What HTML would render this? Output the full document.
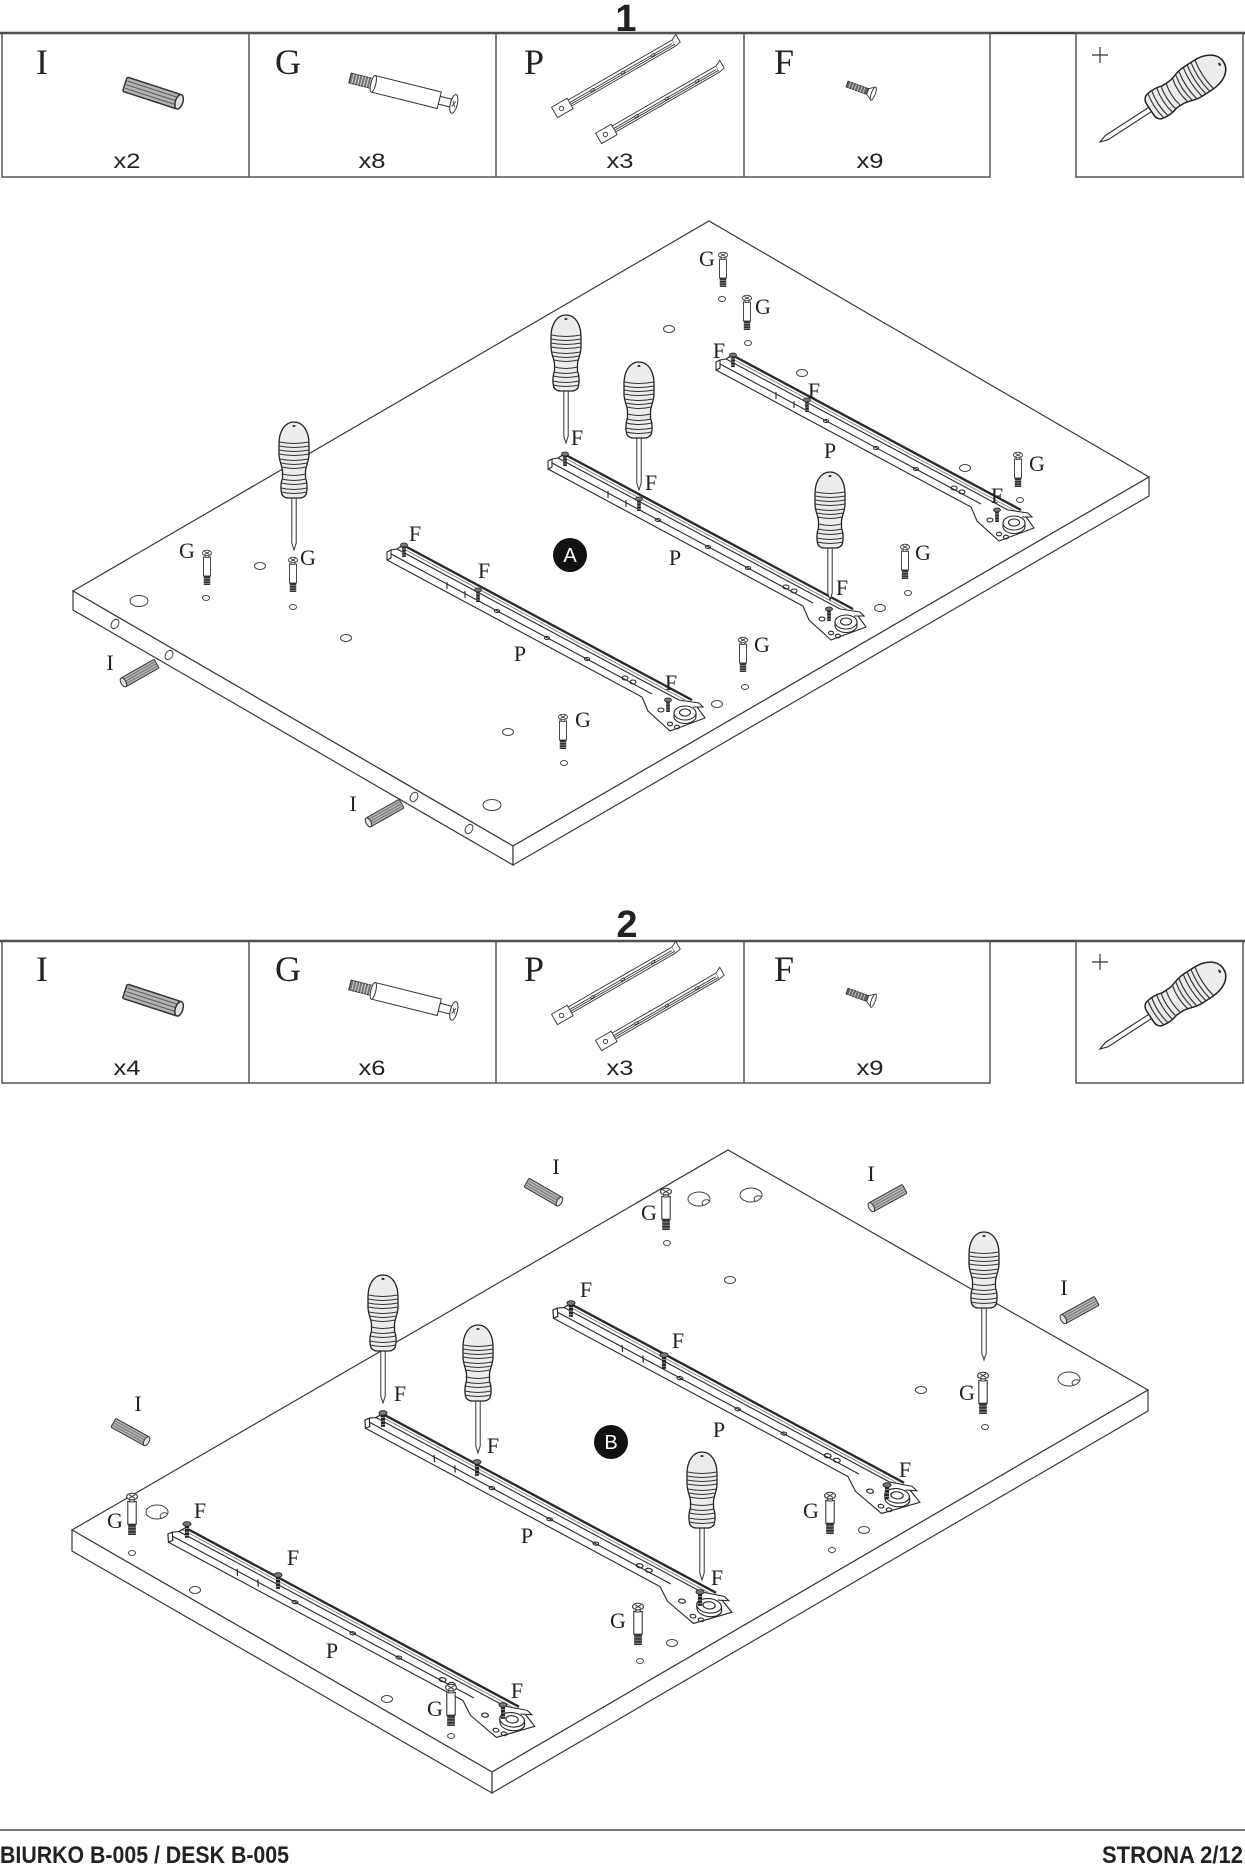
<!DOCTYPE html>
<html>
<head>
<meta charset="utf-8">
<style>
html,body{margin:0;padding:0;background:#fff;}
svg{display:block;}
.lb{font-family:"Liberation Serif",serif;font-size:22px;fill:#222;text-anchor:middle;}
.hl{font-family:"Liberation Serif",serif;font-size:36px;fill:#222;text-anchor:middle;}
.cnt{font-family:"Liberation Sans",sans-serif;font-size:21px;fill:#222;text-anchor:middle;}
.num{font-family:"Liberation Sans",sans-serif;font-size:38px;font-weight:bold;fill:#222;text-anchor:middle;}
.ft{font-family:"Liberation Sans",sans-serif;font-size:24px;font-weight:bold;fill:#222;}
</style>
</head>
<body>
<svg width="1245" height="1865" viewBox="0 0 1245 1865" xmlns="http://www.w3.org/2000/svg">
<defs>
  <g id="dwl">
    <rect x="-19" y="-5" width="38" height="10" rx="1" fill="#b5b5b5" stroke="#333" stroke-width="1"/>
    <path d="M-18,-2.5H17 M-18,0H17 M-18,2.5H17" stroke="#666" stroke-width="0.8" fill="none"/>
    <ellipse cx="19" cy="0" rx="2.5" ry="5" fill="#e2e2e2" stroke="#333" stroke-width="1"/>
  </g>
  <g id="gb">
    <rect x="-3.5" y="7" width="7" height="19" fill="#fff" stroke="#333" stroke-width="0.9"/>
    <rect x="-3.2" y="26" width="6.4" height="9" fill="#333"/>
    <path d="M-3.2,28.5H3.2 M-3.2,31H3.2 M-3.2,33.5H3.2" stroke="#999" stroke-width="0.7"/>
    <rect x="-1.8" y="3" width="3.6" height="4.5" fill="#fff" stroke="#333" stroke-width="0.8"/>
    <ellipse cx="0" cy="3" rx="4.5" ry="2.8" fill="#fff" stroke="#333" stroke-width="0.9"/>
    <path d="M-2.5,1.5L2.5,4.5M2.5,1.5L-2.5,4.5" stroke="#333" stroke-width="0.8"/>
  </g>
  <g id="fs">
    <rect x="-1.8" y="0" width="3.6" height="12" fill="#222"/>
    <path d="M-1.8,4H1.8M-1.8,7H1.8M-1.8,10H1.8" stroke="#aaa" stroke-width="0.7"/>
    <ellipse cx="0" cy="0" rx="3.5" ry="2" fill="#777" stroke="#222" stroke-width="0.8"/>
  </g>
  <g id="sd">
    <path d="M-2.2,-53 L-2.2,-7 L0,0 L2.2,-7 L2.2,-53 Z" fill="#fff" stroke="#333" stroke-width="1"/>
    <path d="M0,-128 C9,-128 15,-119 15,-106 L15,-96 C15,-89 12,-85 11.5,-79 L11.5,-72 C13,-68 13.5,-62 12.5,-57 C12,-54 9,-52 6,-52 L-6,-52 C-9,-52 -12,-54 -12.5,-57 C-13.5,-62 -13,-68 -11.5,-72 L-11.5,-79 C-12,-85 -15,-89 -15,-96 L-15,-106 C-15,-119 -9,-128 0,-128 Z" fill="#ececec" stroke="#222" stroke-width="1.3"/>
    <path d="M-14.5,-108Q0,-105 14.5,-108 M-15,-104Q0,-101 15,-104 M-15,-100Q0,-97 15,-100 M-15,-96Q0,-93 15,-96 M-14,-91Q0,-88 14,-91 M-12.8,-87Q0,-84 12.8,-87 M-11.8,-83Q0,-80 11.8,-83 M-11.5,-76Q0,-73 11.5,-76 M-12,-71Q0,-68 12,-71 M-12.8,-67Q0,-64 12.8,-67 M-13,-62Q0,-59 13,-62 M-12.8,-58Q0,-55 12.8,-58" fill="none" stroke="#333" stroke-width="1"/>
    <ellipse cx="0" cy="-124" rx="1.6" ry="1" fill="#333"/>
  </g>
  <g id="rail" fill="none" stroke="#2a2a2a" stroke-width="1.1">
    <path d="M0,7 L0,-1 L4,-3 L4,5 Z" fill="#fff"/>
    <line x1="0" y1="7" x2="255" y2="144"/>
    <line x1="4" y1="1" x2="265" y2="141"/>
    <line x1="4" y1="-3" x2="10" y2="-4"/>
    <line x1="10" y1="-4" x2="292" y2="147"/>
    <line x1="13" y1="-6" x2="298" y2="147" stroke="#777" stroke-width="0.8"/>
    <line x1="10" y1="-4" x2="16" y2="-8"/>
    <line x1="16" y1="-8" x2="305" y2="147" stroke-width="2.4"/>
    <path d="M60,36 V29 M78,45 V38"/>
    <ellipse cx="110" cy="58" rx="2.5" ry="1.5"/>
    <ellipse cx="160" cy="85" rx="2.5" ry="1.5"/>
    <ellipse cx="200" cy="106" rx="2.5" ry="1.5"/>
    <ellipse cx="238" cy="125" rx="3" ry="2"/>
    <ellipse cx="246" cy="129" rx="3" ry="2"/>
    <path d="M255,144 L261,158 L283,178 L318,165 L308,151 L298,148" fill="#fff"/>
    <path d="M292,147 L312,150 L316,154 L306,154" fill="#fff"/>
    <path d="M287,160 v3.5 a11,7 0 0 0 22,0 v-3.5" fill="#fff"/>
    <ellipse cx="298" cy="160" rx="11" ry="7" fill="#fff"/>
    <ellipse cx="298" cy="159.5" rx="5.5" ry="3.5"/>
    <ellipse cx="274" cy="157" rx="3" ry="2"/>
    <ellipse cx="283" cy="171" rx="2.5" ry="1.8"/>
    <ellipse cx="290" cy="174" rx="2.5" ry="1.8"/>
  </g>
  <g id="icons">
    <g transform="translate(152,93) rotate(18) scale(1.5)"><use href="#dwl"/></g>
    <g transform="translate(350,78) rotate(14)" stroke="#333" stroke-width="1">
      <rect x="0" y="-5" width="24" height="10" fill="#777"/>
      <path d="M3,-5V5M6,-5V5M9,-5V5M12,-5V5M15,-5V5M18,-5V5M21,-5V5" stroke="#ddd" stroke-width="0.9"/>
      <rect x="24" y="-8.5" width="68" height="17" fill="#fff"/>
      <ellipse cx="24" cy="0" rx="2.5" ry="8.5" fill="#fff"/>
      <rect x="92" y="-4" width="12" height="8" fill="#fff"/>
      <ellipse cx="107" cy="0" rx="3.5" ry="9.5" fill="#fff"/>
      <path d="M105.5,-3L108.5,3M108.5,-3L105.5,3" stroke-width="0.8"/>
    </g>
    <g transform="translate(556,107) rotate(-30)" stroke="#333" stroke-width="0.9" fill="#fff">
      <path d="M0,0 L134,0 L134,7 L0,7 Z"/>
      <path d="M0,3 H132 M0,5 H134" fill="none"/>
      <ellipse cx="40" cy="3.5" rx="2" ry="1"/><ellipse cx="75" cy="3.5" rx="2" ry="1"/><ellipse cx="110" cy="3.5" rx="2" ry="1"/>
      <path d="M-4,-2 L14,-2 L14,10 L-4,10 Z"/>
      <circle cx="4" cy="4" r="2.2"/>
      <path d="M134,0 L140,-3 L140,6 L134,7"/>
    </g>
    <g transform="translate(600,133) rotate(-30)" stroke="#333" stroke-width="0.9" fill="#fff">
      <path d="M0,0 L134,0 L134,7 L0,7 Z"/>
      <path d="M0,3 H132 M0,5 H134" fill="none"/>
      <ellipse cx="40" cy="3.5" rx="2" ry="1"/><ellipse cx="75" cy="3.5" rx="2" ry="1"/><ellipse cx="110" cy="3.5" rx="2" ry="1"/>
      <path d="M-4,-2 L14,-2 L14,10 L-4,10 Z"/>
      <circle cx="4" cy="4" r="2.2"/>
      <path d="M134,0 L140,-3 L140,6 L134,7"/>
    </g>
    <g transform="translate(847,84) rotate(20)" stroke="#333" stroke-width="0.9">
      <rect x="0" y="-3" width="22" height="6" fill="#666"/>
      <path d="M3,-3V3M6,-3V3M9,-3V3M12,-3V3M15,-3V3M18,-3V3" stroke="#ddd" stroke-width="0.8"/>
      <path d="M22,-3 L28,-7 L28,7 L22,3 Z" fill="#fff"/>
      <ellipse cx="28" cy="0" rx="2" ry="7" fill="#fff"/>
    </g>
    <path d="M1092,55H1108M1100,47V63" stroke="#333" stroke-width="1.2"/>
    <g transform="translate(1100,142) rotate(57) scale(1.15)"><use href="#sd"/></g>
  </g>
</defs>

<!-- HEADER 1 -->
<text class="num" x="626" y="31">1</text>
<line x1="0" y1="33" x2="1245" y2="33" stroke="#444" stroke-width="2.5"/>
<g fill="none" stroke="#555" stroke-width="1.5">
  <rect x="2" y="33" width="988" height="144"/>
  <line x1="249" y1="33" x2="249" y2="177"/>
  <line x1="496" y1="33" x2="496" y2="177"/>
  <line x1="744" y1="33" x2="744" y2="177"/>
  <rect x="1076" y="33" width="167" height="144"/>
</g>
<text class="hl" x="42" y="74">I</text>
<text class="hl" x="288" y="74">G</text>
<text class="hl" x="534" y="74">P</text>
<text class="hl" x="784" y="74">F</text>
<text class="cnt" x="127" y="168" textLength="27" lengthAdjust="spacingAndGlyphs">x2</text>
<text class="cnt" x="372" y="168" textLength="27" lengthAdjust="spacingAndGlyphs">x8</text>
<text class="cnt" x="620" y="168" textLength="27" lengthAdjust="spacingAndGlyphs">x3</text>
<text class="cnt" x="870" y="168" textLength="27" lengthAdjust="spacingAndGlyphs">x9</text>
<use href="#icons"/>

<!-- STEP 1 BOARD -->
<g stroke="#3a3a3a" stroke-width="1.2" fill="#fff">
  <polygon points="73,591 709,221 1149,477 513,846"/>
  <polygon points="73,591 513,846 513,865 73,610"/>
  <polygon points="513,846 1149,477 1149,496 513,865"/>
</g>
<g fill="none" stroke="#444" stroke-width="1">
  <ellipse cx="139" cy="601" rx="9" ry="5.5"/>
  <ellipse cx="492" cy="805" rx="9" ry="5.5"/>
  <ellipse cx="669" cy="329" rx="5.5" ry="3.5"/>
  <ellipse cx="802" cy="373" rx="5.5" ry="3.5"/>
  <ellipse cx="965" cy="468" rx="5.5" ry="3.5"/>
  <ellipse cx="880" cy="608" rx="5.5" ry="3.5"/>
  <ellipse cx="717" cy="704" rx="5.5" ry="3.5"/>
  <ellipse cx="508" cy="732" rx="5.5" ry="3.5"/>
  <ellipse cx="346" cy="638" rx="5.5" ry="3.5"/>
  <ellipse cx="260" cy="566" rx="5.5" ry="3.5"/>
  <ellipse cx="722" cy="299" rx="3.5" ry="2.5"/>
  <ellipse cx="748" cy="343" rx="3.5" ry="2.5"/>
  <ellipse cx="1020" cy="500" rx="3.5" ry="2.5"/>
  <ellipse cx="908" cy="593" rx="3.5" ry="2.5"/>
  <ellipse cx="745" cy="687" rx="3.5" ry="2.5"/>
  <ellipse cx="564" cy="763" rx="3.5" ry="2.5"/>
  <ellipse cx="206" cy="598" rx="3.5" ry="2.5"/>
  <ellipse cx="293" cy="607" rx="3.5" ry="2.5"/>
  <ellipse cx="115" cy="624" rx="3.5" ry="5" transform="rotate(30 115 624)"/>
  <ellipse cx="169" cy="655" rx="3.5" ry="5" transform="rotate(30 169 655)"/>
  <ellipse cx="414" cy="797" rx="3.5" ry="5" transform="rotate(30 414 797)"/>
  <ellipse cx="469" cy="829" rx="3.5" ry="5" transform="rotate(30 469 829)"/>
</g>
<use href="#rail" transform="translate(387,553)"/>
<use href="#rail" transform="translate(548,462)"/>
<use href="#rail" transform="translate(716,363)"/>
<use href="#fs" transform="translate(404,545)"/>
<use href="#fs" transform="translate(478,590)"/>
<use href="#fs" transform="translate(668,700)"/>
<use href="#fs" transform="translate(565,454)"/>
<use href="#fs" transform="translate(639,499)"/>
<use href="#fs" transform="translate(829,609)"/>
<use href="#fs" transform="translate(733,355)"/>
<use href="#fs" transform="translate(807,400)"/>
<use href="#fs" transform="translate(997,510)"/>
<use href="#gb" transform="translate(723,252)"/>
<use href="#gb" transform="translate(747,295)"/>
<use href="#gb" transform="translate(1018,452)"/>
<use href="#gb" transform="translate(905,544)"/>
<use href="#gb" transform="translate(743,637)"/>
<use href="#gb" transform="translate(563,714)"/>
<use href="#gb" transform="translate(207,550)"/>
<use href="#gb" transform="translate(293,557)"/>
<use href="#dwl" transform="translate(140,673) rotate(150.5)"/>
<use href="#dwl" transform="translate(385,813) rotate(150.5)"/>
<use href="#sd" transform="translate(294,550)"/>
<use href="#sd" transform="translate(566,443)"/>
<use href="#sd" transform="translate(639,490)"/>
<use href="#sd" transform="translate(830,600)"/>
<text class="lb" x="415" y="541">F</text>
<text class="lb" x="484" y="578">F</text>
<text class="lb" x="671" y="690">F</text>
<text class="lb" x="577" y="445">F</text>
<text class="lb" x="651" y="490">F</text>
<text class="lb" x="842" y="595">F</text>
<text class="lb" x="719" y="358">F</text>
<text class="lb" x="814" y="398">F</text>
<text class="lb" x="997" y="503">F</text>
<text class="lb" x="520" y="661">P</text>
<text class="lb" x="675" y="565">P</text>
<text class="lb" x="830" y="458">P</text>
<text class="lb" x="707" y="266">G</text>
<text class="lb" x="763" y="314">G</text>
<text class="lb" x="1037" y="471">G</text>
<text class="lb" x="923" y="560">G</text>
<text class="lb" x="762" y="652">G</text>
<text class="lb" x="583" y="727">G</text>
<text class="lb" x="187" y="558">G</text>
<text class="lb" x="308" y="565">G</text>
<text class="lb" x="110" y="670">I</text>
<text class="lb" x="353" y="811">I</text>
<circle cx="570" cy="555" r="17" fill="#111"/>
<text x="570" y="562" fill="#fff" font-family="Liberation Sans, sans-serif" font-size="20" text-anchor="middle">A</text>

<!-- HEADER 2 -->
<text class="num" x="627" y="937">2</text>
<line x1="0" y1="941" x2="1245" y2="941" stroke="#444" stroke-width="2.5"/>
<g fill="none" stroke="#555" stroke-width="1.5">
  <rect x="2" y="941" width="988" height="142"/>
  <line x1="249" y1="941" x2="249" y2="1083"/>
  <line x1="496" y1="941" x2="496" y2="1083"/>
  <line x1="744" y1="941" x2="744" y2="1083"/>
  <rect x="1076" y="941" width="167" height="142"/>
</g>
<text class="hl" x="42" y="981">I</text>
<text class="hl" x="288" y="981">G</text>
<text class="hl" x="534" y="981">P</text>
<text class="hl" x="784" y="981">F</text>
<text class="cnt" x="127" y="1075" textLength="27" lengthAdjust="spacingAndGlyphs">x4</text>
<text class="cnt" x="372" y="1075" textLength="27" lengthAdjust="spacingAndGlyphs">x6</text>
<text class="cnt" x="620" y="1075" textLength="27" lengthAdjust="spacingAndGlyphs">x3</text>
<text class="cnt" x="870" y="1075" textLength="27" lengthAdjust="spacingAndGlyphs">x9</text>
<use href="#icons" transform="translate(0,907)"/>

<!-- STEP 2 BOARD -->
<g stroke="#3a3a3a" stroke-width="1.2" fill="#fff">
  <polygon points="72,1530 728,1150 1148,1390 492,1772"/>
  <polygon points="72,1530 492,1772 492,1793 72,1551"/>
  <polygon points="492,1772 1148,1390 1148,1411 492,1793"/>
</g>
<g fill="none" stroke="#444" stroke-width="1">
  <ellipse cx="699" cy="1199" rx="11" ry="7"/><path d="M703,1205 a4,3 0 0 1 7,-4"/>
  <ellipse cx="751" cy="1195" rx="11" ry="7"/><path d="M755,1201 a4,3 0 0 1 7,-4"/>
  <ellipse cx="1069" cy="1379" rx="11" ry="7"/><path d="M1073,1385 a4,3 0 0 1 7,-4"/>
  <ellipse cx="157" cy="1512" rx="11" ry="7"/><path d="M161,1518 a4,3 0 0 1 7,-4"/>
  <ellipse cx="730" cy="1280" rx="5.5" ry="3.5"/>
  <ellipse cx="921" cy="1390" rx="5.5" ry="3.5"/>
  <ellipse cx="864" cy="1530" rx="5.5" ry="3.5"/>
  <ellipse cx="672" cy="1643" rx="5.5" ry="3.5"/>
  <ellipse cx="387" cy="1699" rx="5.5" ry="3.5"/>
  <ellipse cx="195" cy="1590" rx="5.5" ry="3.5"/>
  <ellipse cx="667" cy="1243" rx="3.5" ry="2.5"/>
  <ellipse cx="985" cy="1427" rx="3.5" ry="2.5"/>
  <ellipse cx="832" cy="1550" rx="3.5" ry="2.5"/>
  <ellipse cx="640" cy="1661" rx="3.5" ry="2.5"/>
  <ellipse cx="451" cy="1736" rx="3.5" ry="2.5"/>
  <ellipse cx="132" cy="1553" rx="3.5" ry="2.5"/>
</g>
<use href="#rail" transform="matrix(1.12,0.0646,0.0646,1.0347,168,1535)"/>
<use href="#rail" transform="matrix(1.12,0.0646,0.0646,1.0347,365,1421)"/>
<use href="#rail" transform="matrix(1.12,0.0646,0.0646,1.0347,553,1311)"/>
<use href="#fs" transform="translate(187,1524) scale(1.15)"/>
<use href="#fs" transform="translate(278,1575) scale(1.15)"/>
<use href="#fs" transform="translate(503,1705) scale(1.15)"/>
<use href="#fs" transform="translate(383,1413) scale(1.15)"/>
<use href="#fs" transform="translate(477,1462) scale(1.15)"/>
<use href="#fs" transform="translate(700,1592) scale(1.15)"/>
<use href="#fs" transform="translate(571,1303) scale(1.15)"/>
<use href="#fs" transform="translate(664,1355) scale(1.15)"/>
<use href="#fs" transform="translate(887,1485) scale(1.15)"/>
<use href="#gb" transform="translate(666,1188) scale(1.2)"/>
<use href="#gb" transform="translate(983,1372) scale(1.2)"/>
<use href="#gb" transform="translate(830,1492) scale(1.2)"/>
<use href="#gb" transform="translate(638,1603) scale(1.2)"/>
<use href="#gb" transform="translate(451,1684) scale(1.2)"/>
<use href="#gb" transform="translate(132,1493) scale(1.2)"/>
<use href="#dwl" transform="translate(130,1432) rotate(29)"/>
<use href="#dwl" transform="translate(543,1192) rotate(30)"/>
<use href="#dwl" transform="translate(888,1198) rotate(151)"/>
<use href="#dwl" transform="translate(1080,1310) rotate(151)"/>
<use href="#sd" transform="translate(383,1403)"/>
<use href="#sd" transform="translate(478,1453)"/>
<use href="#sd" transform="translate(702,1580)"/>
<use href="#sd" transform="translate(984,1360)"/>
<text class="lb" x="200" y="1518">F</text>
<text class="lb" x="293" y="1565">F</text>
<text class="lb" x="517" y="1698">F</text>
<text class="lb" x="400" y="1401">F</text>
<text class="lb" x="493" y="1453">F</text>
<text class="lb" x="717" y="1585">F</text>
<text class="lb" x="586" y="1297">F</text>
<text class="lb" x="678" y="1348">F</text>
<text class="lb" x="905" y="1477">F</text>
<text class="lb" x="332" y="1658">P</text>
<text class="lb" x="527" y="1543">P</text>
<text class="lb" x="719" y="1437">P</text>
<text class="lb" x="649" y="1220">G</text>
<text class="lb" x="967" y="1400">G</text>
<text class="lb" x="811" y="1518">G</text>
<text class="lb" x="618" y="1628">G</text>
<text class="lb" x="435" y="1716">G</text>
<text class="lb" x="115" y="1528">G</text>
<text class="lb" x="556" y="1174">I</text>
<text class="lb" x="871" y="1181">I</text>
<text class="lb" x="138" y="1411">I</text>
<text class="lb" x="1064" y="1295">I</text>
<circle cx="611" cy="1442" r="17" fill="#111"/>
<text x="611" y="1449" fill="#fff" font-family="Liberation Sans, sans-serif" font-size="20" text-anchor="middle">B</text>

<!-- FOOTER -->
<line x1="0" y1="1830" x2="1245" y2="1830" stroke="#777" stroke-width="2"/>
<text class="ft" x="0" y="1863" textLength="289" lengthAdjust="spacingAndGlyphs">BIURKO B-005 / DESK B-005</text>
<text class="ft" x="1102" y="1863" textLength="141" lengthAdjust="spacingAndGlyphs">STRONA 2/12</text>
</svg>
</body>
</html>
